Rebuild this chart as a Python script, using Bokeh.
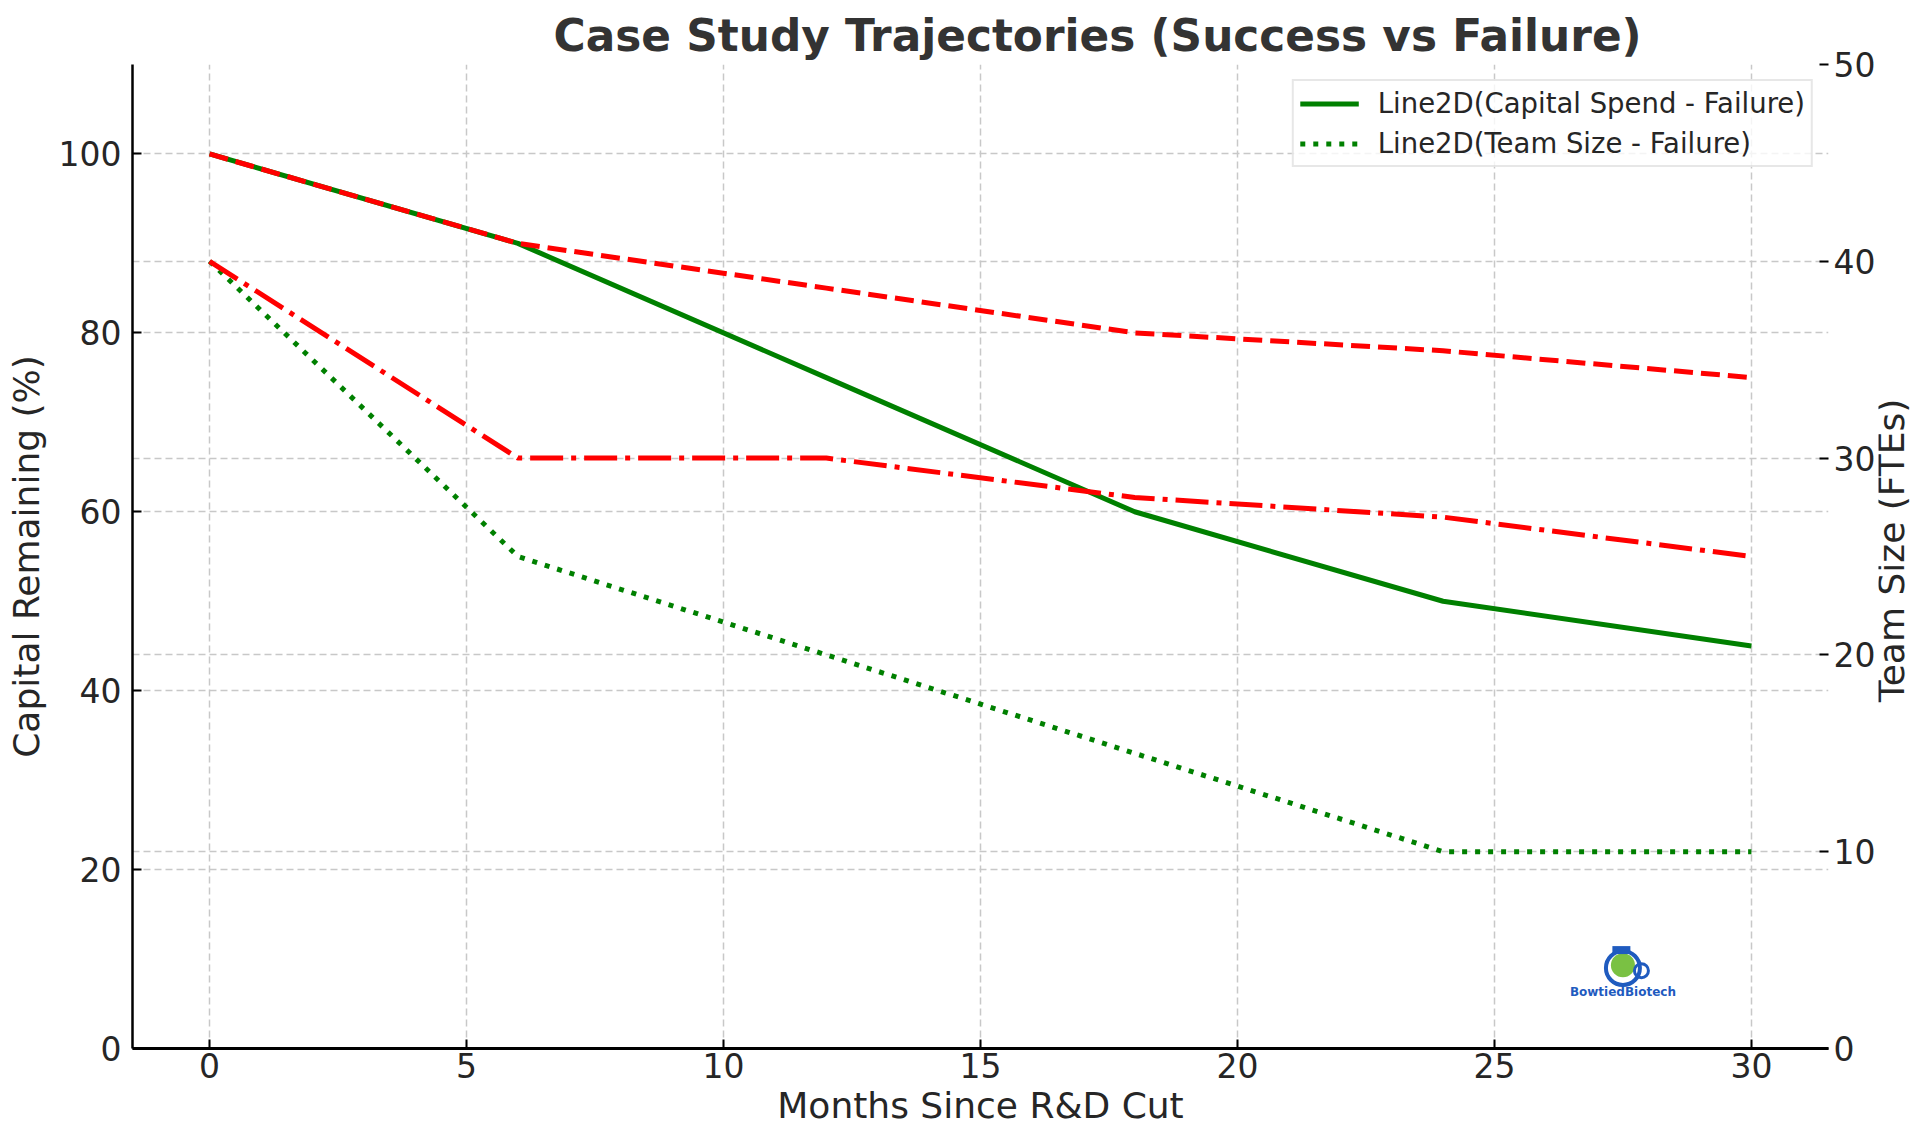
import math
from bokeh.plotting import figure
from bokeh.layouts import row
from bokeh.models import (Range1d, LinearAxis, FixedTicker, Grid, Legend,
                          LegendItem, Label)
from bokeh.embed import file_html
from bokeh.resources import INLINE

# ---- data ----
months = [0, 6, 12, 18, 24, 30]
capital_failure = [100, 90, 75, 60, 50, 45]
team_failure = [40, 25, 20, 15, 10, 10]
capital_success = [100, 90, 85, 80, 78, 75]
team_success = [40, 30, 30, 28, 27, 25]

x_ticks = [0, 5, 10, 15, 20, 25, 30]
left_ticks = [0, 20, 40, 60, 80, 100]
right_ticks = [0, 10, 20, 30, 40, 50]

title_text = "Case Study Trajectories (Success vs Failure)"
x_label = "Months Since R&D Cut"
left_label = "Capital Remaining (%)"
right_label = "Team Size (FTEs)"
legend_labels = ["Line2D(Capital Spend - Failure)", "Line2D(Team Size - Failure)"]
logo_text = "BowtiedBiotech"
logo_pos = (27.5, 9.0)

FONT = "DejaVu Sans"
TXT = "#262626"
GREEN = "#008000"
RED = "#ff0000"
LOGO_BLUE = "#1f5bbf"
LOGO_GREEN = "#7ac143"

MAIN_W, MAIN_H = 1878, 1128
RIGHT_W = 36
B_LEFT, B_RIGHT, B_TOP, B_BOTTOM = 132, 49, 64, 78

p = figure(width=MAIN_W, height=MAIN_H,
           x_range=Range1d(-1.5, 31.5), y_range=Range1d(0, 110),
           output_backend="svg", toolbar_location=None,
           min_border_left=B_LEFT, min_border_right=B_RIGHT,
           min_border_top=B_TOP, min_border_bottom=B_BOTTOM)
p.extra_y_ranges = {"team": Range1d(0, 50)}
p.outline_line_color = None
p.background_fill_color = "white"
p.border_fill_color = "white"

# title
p.title.text = title_text
p.title.align = "left"
p.title.offset = 421
p.title.text_font = FONT
p.title.text_font_size = "43.8px"
p.title.text_font_style = "bold"
p.title.text_color = "#333333"
p.title.standoff = 7

def style_axis(ax, ticks):
    ax.ticker = FixedTicker(ticks=ticks)
    ax.major_label_text_font = FONT
    ax.major_label_text_font_size = "33px"
    ax.major_label_text_color = TXT
    ax.axis_label_text_font = FONT
    ax.axis_label_text_font_size = "36px"
    ax.axis_label_text_font_style = "normal"
    ax.axis_label_text_color = TXT
    ax.major_tick_in = 9
    ax.major_tick_out = 0
    ax.minor_tick_in = 0
    ax.minor_tick_out = 0
    ax.major_tick_line_color = "black"
    ax.major_tick_line_width = 2
    ax.major_label_standoff = 11

xa = p.xaxis[0]
style_axis(xa, x_ticks)
xa.axis_label = x_label
xa.axis_line_color = "black"
xa.axis_line_width = 3
xa.major_label_standoff = 4
xa.axis_label_standoff = 4

ya = p.yaxis[0]
style_axis(ya, left_ticks)
ya.axis_label = left_label
ya.axis_line_color = "black"
ya.axis_line_width = 2.5
ya.axis_label_standoff = 9

ra = LinearAxis(y_range_name="team")
style_axis(ra, right_ticks)
ra.axis_line_color = None
ra.major_label_standoff = 5
p.add_layout(ra, "right")

# grids
GRID_COLOR = "#c8c8c8"
p.xgrid.ticker = FixedTicker(ticks=x_ticks)
p.ygrid.ticker = FixedTicker(ticks=left_ticks)
for g in (p.xgrid[0], p.ygrid[0]):
    g.grid_line_color = GRID_COLOR
    g.grid_line_width = 1.5
    g.grid_line_dash = "7 4"
rg = Grid(dimension=1, y_range_name="team", ticker=FixedTicker(ticks=right_ticks),
          grid_line_color=GRID_COLOR, grid_line_width=1.5, grid_line_dash="7 4")
p.add_layout(rg)

# lines
r_cap_f = p.line(months, capital_failure, line_color=GREEN, line_width=5,
                 line_join="round")
r_team_f = p.line(months, team_failure, y_range_name="team", line_color=GREEN,
                  line_width=5, line_dash="5 8")
r_cap_s = p.line(months, capital_success, line_color=RED, line_width=5,
                 line_dash="19 8")
r_team_s = p.line(months, team_success, y_range_name="team", line_color=RED,
                  line_width=5, line_dash="33 8 5 8")

legend = Legend(items=[LegendItem(label=legend_labels[0], renderers=[r_cap_f]),
                       LegendItem(label=legend_labels[1], renderers=[r_team_f])],
                location="top_right")
legend.label_text_font = FONT
legend.label_text_font_size = "27.5px"
legend.label_text_color = TXT
legend.glyph_width = 59
legend.glyph_height = 25
legend.label_height = 25
legend.label_standoff = 19
legend.spacing = 8
legend.padding = 6
legend.margin = 15
legend.border_line_color = "#d0d0d0"
legend.border_line_width = 2
legend.background_fill_color = "white"
legend.background_fill_alpha = 0.8
p.add_layout(legend)

# watermark logo
lx, ly = logo_pos
p.scatter([lx], [ly], size=34, fill_color=None, line_color=LOGO_BLUE, line_width=4)
p.scatter([lx], [ly + 0.3], size=24, fill_color=LOGO_GREEN, line_color=None)
p.scatter([lx + 0.36], [ly - 0.3], size=14, fill_color=None, line_color=LOGO_BLUE,
          line_width=3)
p.rect([lx - 0.03], [ly + 2.0], width=18, height=8, width_units="screen",
       height_units="screen", fill_color=LOGO_BLUE, line_color=None)
p.add_layout(Label(x=lx, y=ly - 2.64, text=logo_text, text_align="center",
                   text_baseline="middle", text_font=FONT, text_font_size="12px",
                   text_font_style="bold", text_color=LOGO_BLUE))

# strip to the right holding the right-axis title (reads bottom to top)
pr = figure(width=RIGHT_W, height=MAIN_H, x_range=Range1d(0, 1),
            y_range=Range1d(0, MAIN_H), output_backend="svg", title=None,
            toolbar_location=None, x_axis_location=None, y_axis_location=None,
            min_border=0)
pr.outline_line_color = None
pr.grid.visible = False
pr.add_layout(Label(x=0.36, y=MAIN_H - 557, text=right_label, angle=math.pi / 2,
                    text_align="center", text_baseline="middle",
                    text_font=FONT, text_font_size="36px", text_color=TXT))

layout = row(p, pr, spacing=0)

with open("out.html", "w") as f:
    f.write(file_html(layout, INLINE))
